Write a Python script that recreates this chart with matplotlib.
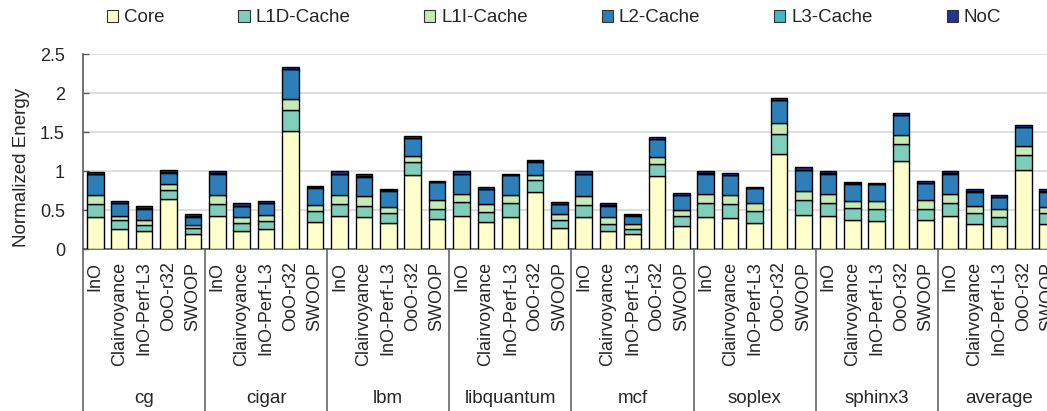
import matplotlib
matplotlib.use("Agg")
import matplotlib.pyplot as plt
import numpy as np
from matplotlib.patches import Patch

plt.rcParams["font.family"] = ["Liberation Sans", "DejaVu Sans"]

BENCHMARKS = ["cg", "cigar", "lbm", "libquantum", "mcf", "soplex", "sphinx3", "average"]
CONFIGS = ["InO", "Clairvoyance", "InO-Perf-L3", "OoO-r32", "SWOOP"]
COMPONENTS = ["Core", "L1D-Cache", "L1I-Cache", "L2-Cache", "L3-Cache", "NoC"]

# one row per benchmark, one value per config
core = [
    0.42, 0.26, 0.23, 0.64, 0.19,
    0.43, 0.24, 0.26, 1.52, 0.35,
    0.43, 0.41, 0.34, 0.95, 0.39,
    0.43, 0.35, 0.41, 0.73, 0.27,
    0.41, 0.24, 0.19, 0.94, 0.30,
    0.42, 0.40, 0.34, 1.22, 0.44,
    0.43, 0.38, 0.36, 1.13, 0.38,
    0.43, 0.33, 0.30, 1.02, 0.33,
]
l1d = [
    0.16, 0.11, 0.08, 0.12, 0.08,
    0.15, 0.10, 0.10, 0.26, 0.14,
    0.15, 0.15, 0.12, 0.17, 0.13,
    0.17, 0.13, 0.18, 0.16, 0.11,
    0.16, 0.09, 0.07, 0.15, 0.13,
    0.17, 0.18, 0.15, 0.26, 0.19,
    0.16, 0.15, 0.15, 0.22, 0.14,
    0.16, 0.13, 0.12, 0.19, 0.13,
]
l1i = [
    0.12, 0.06, 0.07, 0.07, 0.04,
    0.12, 0.07, 0.08, 0.15, 0.08,
    0.12, 0.12, 0.08, 0.07, 0.11,
    0.11, 0.10, 0.11, 0.06, 0.07,
    0.11, 0.08, 0.06, 0.09, 0.07,
    0.12, 0.12, 0.10, 0.14, 0.12,
    0.12, 0.09, 0.11, 0.12, 0.11,
    0.12, 0.09, 0.09, 0.11, 0.08,
]
l2 = [
    0.26, 0.16, 0.14, 0.15, 0.11,
    0.27, 0.14, 0.15, 0.38, 0.22,
    0.26, 0.25, 0.21, 0.23, 0.23,
    0.25, 0.19, 0.25, 0.17, 0.13,
    0.28, 0.15, 0.11, 0.23, 0.19,
    0.26, 0.25, 0.19, 0.29, 0.26,
    0.26, 0.22, 0.21, 0.25, 0.22,
    0.26, 0.19, 0.16, 0.24, 0.20,
]
l3 = [
    0.005, 0.005, 0.005, 0.005, 0.005,
    0.005, 0.005, 0.005, 0.005, 0.005,
    0.005, 0.005, 0.005, 0.005, 0.005,
    0.005, 0.005, 0.005, 0.005, 0.005,
    0.005, 0.005, 0.005, 0.005, 0.005,
    0.005, 0.005, 0.005, 0.005, 0.005,
    0.005, 0.005, 0.005, 0.005, 0.005,
    0.005, 0.005, 0.005, 0.005, 0.005,
]
noc = [
    0.025, 0.025, 0.025, 0.035, 0.025,
    0.025, 0.035, 0.025, 0.025, 0.015,
    0.035, 0.035, 0.015, 0.025, 0.015,
    0.035, 0.025, 0.015, 0.025, 0.025,
    0.035, 0.025, 0.015, 0.025, 0.025,
    0.025, 0.025, 0.015, 0.025, 0.035,
    0.025, 0.015, 0.015, 0.025, 0.025,
    0.025, 0.025, 0.025, 0.025, 0.025,
]

COLORS = ["#ffffcc", "#7fcdbb", "#c7e9b4", "#2c7fb8", "#41b6c4", "#253494"]
AXIS_COLOR = "#595959"
TEXT_COLOR = "#262626"
GRID_COLOR = "#d9d9d9"

fig = plt.figure(figsize=(10.47, 4.11), dpi=100)
ax = fig.add_axes([0.0793, 0.3934, 0.933, 0.475])

x = np.arange(len(BENCHMARKS) * len(CONFIGS))
bottom = np.zeros(len(x))
for name, vals, color in zip(COMPONENTS, [core, l1d, l1i, l2, l3, noc], COLORS):
    vals = np.array(vals)
    ax.bar(x, vals, width=0.68, bottom=bottom, color=color,
           edgecolor="black", linewidth=1.0, zorder=3, label=name)
    bottom += vals

ax.set_xlim(-0.5, len(x) - 0.5)
ax.set_ylim(0, 2.5)
ax.set_yticks([0, 0.5, 1, 1.5, 2, 2.5])
ax.set_yticklabels(["0", "0.5", "1", "1.5", "2", "2.5"])
ax.yaxis.grid(True, color=GRID_COLOR, linewidth=1.2, zorder=0)
ax.set_axisbelow(True)
ax.tick_params(axis="y", direction="in", length=4.5, width=1, color=AXIS_COLOR,
               labelsize=13, labelcolor=TEXT_COLOR, pad=13)
ax.tick_params(axis="x", bottom=False, labelbottom=False)
for side in ("top", "right"):
    ax.spines[side].set_visible(False)
for side in ("left", "bottom"):
    ax.spines[side].set_color(AXIS_COLOR)
    ax.spines[side].set_linewidth(1.2)

ax.set_ylabel("Normalized Energy", fontsize=13.5, color=TEXT_COLOR)
ax.yaxis.set_label_coords(-0.054, 0.42)

# two-level category axis
trans = ax.get_xaxis_transform()
for i, xi in enumerate(x):
    ax.text(xi, -0.063, CONFIGS[i % len(CONFIGS)], transform=trans,
            rotation=90, ha="center", va="top", fontsize=13,
            color=TEXT_COLOR, clip_on=False)
for g, bench in enumerate(BENCHMARKS):
    left = g * len(CONFIGS) - 0.5
    ax.plot([left, left], [0, -0.9], transform=trans, color=AXIS_COLOR,
            linewidth=1.1, clip_on=False)
    ax.text(left + len(CONFIGS) / 2, -0.762, bench, transform=trans,
            ha="center", va="center", fontsize=13.5, color=TEXT_COLOR,
            clip_on=False)

handles = [Patch(facecolor=c, edgecolor="#333333", linewidth=0.8) for c in COLORS]
fig.legend(handles, COMPONENTS, loc="center", bbox_to_anchor=(0.529, 0.957),
           ncol=6, frameon=False, fontsize=13.5, handlelength=0.6,
           handleheight=0.6, handletextpad=0.3, columnspacing=3.95,
           labelcolor=TEXT_COLOR)

fig.savefig("out.png", dpi=100)
